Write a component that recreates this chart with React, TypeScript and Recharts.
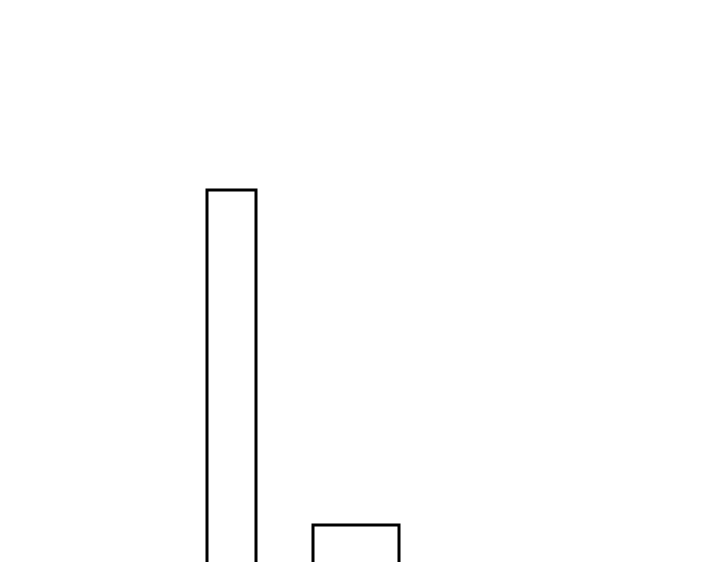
import { Bar, BarChart, XAxis, YAxis } from "recharts";

// one category, two outlined bars of different widths
const categories = ["group"];
const tallValues = [8];
const shortValues = [2.5];
const yDomain: [number, number] = [0, 8];

const data = categories.map((name, i) => ({
  name,
  tall: tallValues[i],
  short: shortValues[i],
}));

export default function App() {
  return (
    <div style={{ position: "absolute", top: 0, left: 0 }}>
      <BarChart
        width={720}
        height={690}
        data={data}
        barGap={57}
        margin={{ top: 190, right: 114, bottom: 12.73, left: 0 }}
      >
        <XAxis dataKey="name" hide />
        <YAxis domain={yDomain} hide />
        <Bar
          dataKey="tall"
          barSize={49}
          fill="none"
          stroke="#000"
          strokeWidth={3}
          isAnimationActive={false}
        />
        <Bar
          dataKey="short"
          barSize={86}
          fill="none"
          stroke="#000"
          strokeWidth={3}
          isAnimationActive={false}
        />
      </BarChart>
    </div>
  );
}
